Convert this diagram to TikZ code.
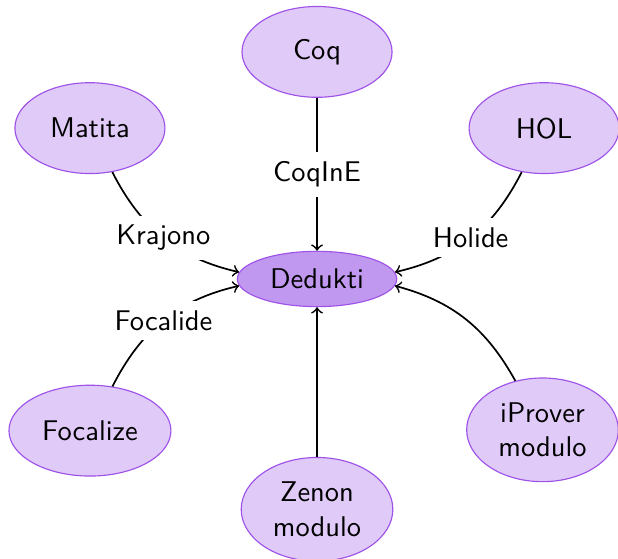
\documentclass[tikz,border=0pt]{standalone}
\usetikzlibrary{shapes.geometric}
\definecolor{dkline}{RGB}{158,82,232}
\definecolor{dkfill}{RGB}{224,202,247}
\definecolor{dkcore}{RGB}{193,152,240}
\begin{document}
\begin{tikzpicture}[->,font=\sffamily,every edge/.append style={semithick}]
	\tikzstyle{tool} = [ellipse,draw=dkline,fill=dkfill,align=center,minimum width=1.85cm,minimum height=1.12cm]
	\tikzstyle{core} = [ellipse,draw=dkline,fill=dkcore]
	\tikzstyle{lbl} = [fill=white]
	\useasboundingbox (-3.909,-3.452) rectangle (3.711,3.44);
	
	\node[core] (dedukti) at (0,0) {Dedukti};
	\node[tool] (coq) at (0,2.80) {Coq};
	\node[tool] (matita) at (-2.80,1.86) {Matita};
	\node[tool] (hol) at (2.80,1.86) {HOL};
	\node[tool] (focalize) at (-2.80,-1.87) {Focalize};
	\node[tool] (iprover) at (2.78,-1.86) {iProver\\modulo};
	\node[tool] (zenon) at (0,-2.84) {Zenon\\modulo};
	
	\path (coq) edge node[lbl]{CoqInE} (dedukti);
	\path (matita) edge[out=-63,in=167] node[lbl]{Krajono} (dedukti.175);
	\path (focalize) edge[out=63,in=193] node[lbl]{Focalide} (dedukti.185);
	\path (hol) edge[out=-117,in=13] node[lbl]{Holide} (dedukti.5);
	\path (iprover) edge[out=119,in=-15] (dedukti.-5);
	\path (zenon) edge (dedukti);
\end{tikzpicture}
\end{document}
